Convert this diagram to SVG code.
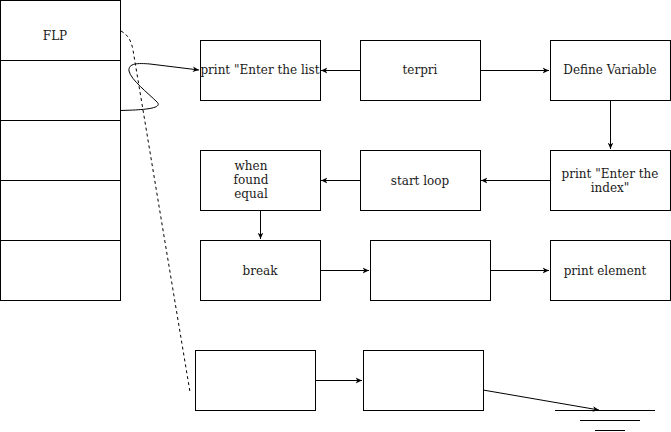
<svg xmlns="http://www.w3.org/2000/svg" width="671" height="432" viewBox="0 0 671 432">
<defs>
<marker id="ah" viewBox="0 0 10 10" refX="9" refY="5" markerWidth="7" markerHeight="7" orient="auto" markerUnits="userSpaceOnUse">
<path d="M0,1 L9,5 L0,9 L2.5,5 Z" fill="#000"/>
</marker>
<style>
.n{fill:#fff;stroke:#000;stroke-width:1}
.t{font-family:"DejaVu Serif",serif;font-size:12px;fill:#1a1a1a;text-anchor:middle}
.c{fill:none;stroke:#000;stroke-width:1}
</style>
</defs>
<rect width="671" height="432" fill="#fff"/>
<g id="flp">
<rect class="n" x="0.5" y="0.5" width="120" height="60"/>
<rect class="n" x="0.5" y="60.5" width="120" height="60"/>
<rect class="n" x="0.5" y="120.5" width="120" height="60"/>
<rect class="n" x="0.5" y="180.5" width="120" height="60"/>
<rect class="n" x="0.5" y="240.5" width="120" height="60"/>
<text class="t" x="55" y="40">FLP</text>
</g>
<g id="printList"><rect class="n" x="200.5" y="40.5" width="120" height="60"/><text class="t" x="260" y="74">print "Enter the list</text></g>
<g id="terpri"><rect class="n" x="360.5" y="40.5" width="120" height="60"/><text class="t" x="420" y="74">terpri</text></g>
<g id="defVar"><rect class="n" x="550.5" y="40.5" width="120" height="60"/><text class="t" x="610" y="74">Define Variable</text></g>
<g id="whenFound"><rect class="n" x="200.5" y="150.5" width="120" height="60"/><text class="t" x="251" y="170">when</text><text class="t" x="251" y="184">found</text><text class="t" x="251" y="198">equal</text></g>
<g id="startLoop"><rect class="n" x="360.5" y="150.5" width="120" height="60"/><text class="t" x="420" y="185">start loop</text></g>
<g id="printIndex"><rect class="n" x="550.5" y="150.5" width="120" height="60"/><text class="t" x="610" y="178">print "Enter the</text><text class="t" x="610" y="192">index"</text></g>
<g id="break"><rect class="n" x="200.5" y="240.5" width="120" height="60"/><text class="t" x="260" y="275">break</text></g>
<g id="blank1"><rect class="n" x="370.5" y="240.5" width="120" height="60"/></g>
<g id="printElem"><rect class="n" x="550.5" y="240.5" width="120" height="60"/><text class="t" x="605" y="275">print element</text></g>
<g id="blank2"><rect class="n" x="195.5" y="350.5" width="120" height="60"/></g>
<g id="blank3"><rect class="n" x="363.5" y="350.5" width="120" height="60"/></g>
<g id="ground">
<line class="c" x1="555" y1="410.5" x2="655" y2="410.5"/>
<line class="c" x1="580" y1="420.5" x2="640" y2="420.5"/>
<line class="c" x1="595" y1="430.5" x2="625" y2="430.5"/>
</g>
<g id="connectors">
<line class="c" x1="360" y1="70.5" x2="321" y2="70.5" marker-end="url(#ah)"/>
<line class="c" x1="480" y1="70.5" x2="549" y2="70.5" marker-end="url(#ah)"/>
<line class="c" x1="610.5" y1="100" x2="610.5" y2="149" marker-end="url(#ah)"/>
<line class="c" x1="550" y1="180.5" x2="481" y2="180.5" marker-end="url(#ah)"/>
<line class="c" x1="360" y1="180.5" x2="321" y2="180.5" marker-end="url(#ah)"/>
<line class="c" x1="260.5" y1="210" x2="260.5" y2="239" marker-end="url(#ah)"/>
<line class="c" x1="320" y1="270.5" x2="369" y2="270.5" marker-end="url(#ah)"/>
<line class="c" x1="490" y1="270.5" x2="549" y2="270.5" marker-end="url(#ah)"/>
<line class="c" x1="315" y1="380.5" x2="362" y2="380.5" marker-end="url(#ah)"/>
<line class="c" x1="483" y1="390" x2="599" y2="410" marker-end="url(#ah)"/>
<path class="c" d="M120,110.5 C140,110 164,109 157,102 C148,93 131,80 129,71 C128,63 138,63 150,64 L199,70" marker-end="url(#ah)"/>
<path class="c" stroke-dasharray="3,3" d="M121,31 C128,35 131,40 133,50 L190,392"/>
</g>
</svg>
